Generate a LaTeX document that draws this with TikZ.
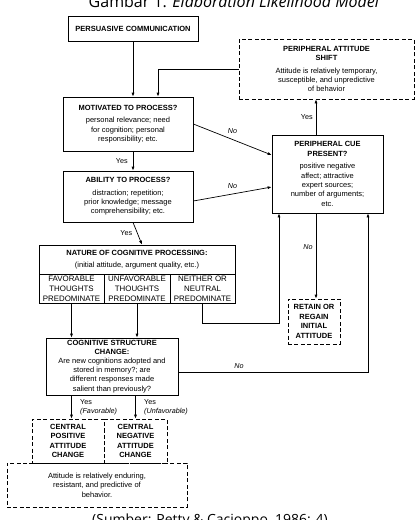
\documentclass[tikz,border=0pt]{standalone}
\usepackage{fontspec}
\setmainfont{Liberation Sans}
\newfontfamily\capfont{Open Sans}
\usetikzlibrary{arrows.meta}

\begin{document}
\begin{tikzpicture}[x=1pt,y=-1pt,
  box/.style={draw, line width=0.7pt, align=center, inner sep=1.5pt, font=\fontsize{7.5}{9.4}\selectfont},
  dbox/.style={box, dash pattern=on 4pt off 2.4pt},
  cell/.style={box, font=\fontsize{7.9}{10}\selectfont},
  sz/.style 2 args={minimum width=#1pt, minimum height=#2pt},
  arr/.style={line width=0.7pt, -{Latex[length=4pt,width=3pt]}},
  lbl/.style={font=\fontsize{7.2}{9.4}\selectfont, inner sep=1pt},
  nolbl/.style={lbl, font=\fontsize{7.2}{9.4}\selectfont\itshape}]
\useasboundingbox (0,0) rectangle (420,520);

\node[anchor=base, font=\capfont\fontsize{16}{19}\selectfont] (title) at (234,7) {Gambar 1. \textit{Elaboration Likelihood Model}};

% boxes
\node[box, sz={130}{25}] (persuade) at (133,28.5) {\textbf{PERSUASIVE COMMUNICATION}};
\node[dbox, sz={175}{60}] (shift) at (326.5,69) {\textbf{PERIPHERAL ATTITUDE}\\\textbf{SHIFT}\\[3pt]Attitude is relatively temporary,\\susceptible, and unpredictive\\of behavior};
\node[box, sz={130}{54}] (motiv) at (128,124) {\textbf{MOTIVATED TO PROCESS?}\\[3pt]personal relevance; need\\for cognition; personal\\responsibility; etc.};
\node[box, sz={111}{78}] (cue) at (327.5,174) {\textbf{PERIPHERAL CUE}\\\textbf{PRESENT?}\\[3pt]positive negative\\affect; attractive\\expert sources;\\number of arguments;\\etc.};
\node[box, sz={130}{51}] (ability) at (128,196.5) {\textbf{ABILITY TO PROCESS?}\\[3pt]distraction; repetition;\\prior knowledge; message\\comprehensibility; etc.};

\node[box, sz={196}{29}] (nature) at (137,259.5) {\textbf{NATURE OF COGNITIVE PROCESSING:}\\[3pt](initial attitude, argument quality, etc.)};
\node[cell, sz={65}{29}] (fav) at (71.5,288.5) {FAVORABLE\\THOUGHTS\\PREDOMINATE};
\node[cell, sz={66}{29}] (unfav) at (137,288.5) {UNFAVORABLE\\THOUGHTS\\PREDOMINATE};
\node[cell, sz={65}{29}] (neither) at (202.5,288.5) {NEITHER OR\\NEUTRAL\\PREDOMINATE};

\node[dbox, sz={52}{45}] (retain) at (314,321.5) {\textbf{RETAIN OR}\\\textbf{REGAIN}\\\textbf{INITIAL}\\\textbf{ATTITUDE}};
\node[box, sz={132}{57}, inner ysep=1pt, font=\fontsize{7.5}{9.1}\selectfont] (cog) at (112,366.5) {\textbf{COGNITIVE STRUCTURE}\\\textbf{CHANGE:}\\Are new cognitions adopted and\\stored in memory?; are\\different responses made\\salient than previously?};

\node[dbox, sz={72}{44}] (pos) at (68,441) {\textbf{CENTRAL}\\\textbf{POSITIVE}\\\textbf{ATTITUDE}\\\textbf{CHANGE}};
\node[dbox, sz={63}{44}] (neg) at (135.5,441) {\textbf{CENTRAL}\\\textbf{NEGATIVE}\\\textbf{ATTITUDE}\\\textbf{CHANGE}};
\node[dbox, sz={180}{44}] (endure) at (97,485) {Attitude is relatively enduring,\\resistant, and predictive of\\behavior.};

\node[anchor=base, font=\capfont\fontsize{14}{17}\selectfont] (source) at (210,524) {(Sumber: Petty \& Cacioppo, 1986: 4)};

% connectors
\draw[arr] (persuade.south) -- (persuade.south |- motiv.north);
\draw[arr] (shift.west) -| ([xshift=30]motiv.north);
\draw[arr] ([xshift=5]motiv.south) -- node[lbl, left=4pt] {Yes} ([xshift=5]ability.north);
\draw[arr] ([xshift=5]ability.south) -- node[lbl, left=4pt] {Yes} ([xshift=5]nature.north);
\draw[arr] (motiv.east) -- node[nolbl, above=5pt] {No} ([yshift=19]cue.west);
\draw[arr] ([yshift=-4.5]ability.east) -- node[nolbl, above=4pt] {No} ([yshift=-13]cue.west);
\draw[arr] ([xshift=-11.5]cue.north) -- node[lbl, left=2pt] {Yes} ([xshift=-11.5]cue.north |- shift.south);
\draw[arr] ([xshift=-11.5]cue.south) -- node[nolbl, left=2pt, pos=0.4] {No} ([xshift=-11.5]cue.south |- retain.north);
\draw[arr] (neither.south) -- ++(0,20) -| ([xshift=-48.5]cue.south);
\draw[arr] ([yshift=-5.5]cog.east) -| node[nolbl, above=2pt, pos=0.16] {No} ([xshift=40.5]cue.south);
\draw[arr] (fav.south) -- (fav.south |- cog.north);
\draw[arr] (unfav.south) -- (unfav.south |- cog.north);
\draw[arr] (fav.south |- cog.south) -- (fav.south |- pos.north);
\draw[arr] (neg.north |- cog.south) -- (neg.north);
\node[lbl, anchor=west, align=left] (yesfav) at (79,407) {Yes\\\textit{(Favorable)}};
\node[lbl, anchor=west, align=left] (yesunfav) at (143,407) {Yes\\\textit{(Unfavorable)}};
\end{tikzpicture}
\end{document}
